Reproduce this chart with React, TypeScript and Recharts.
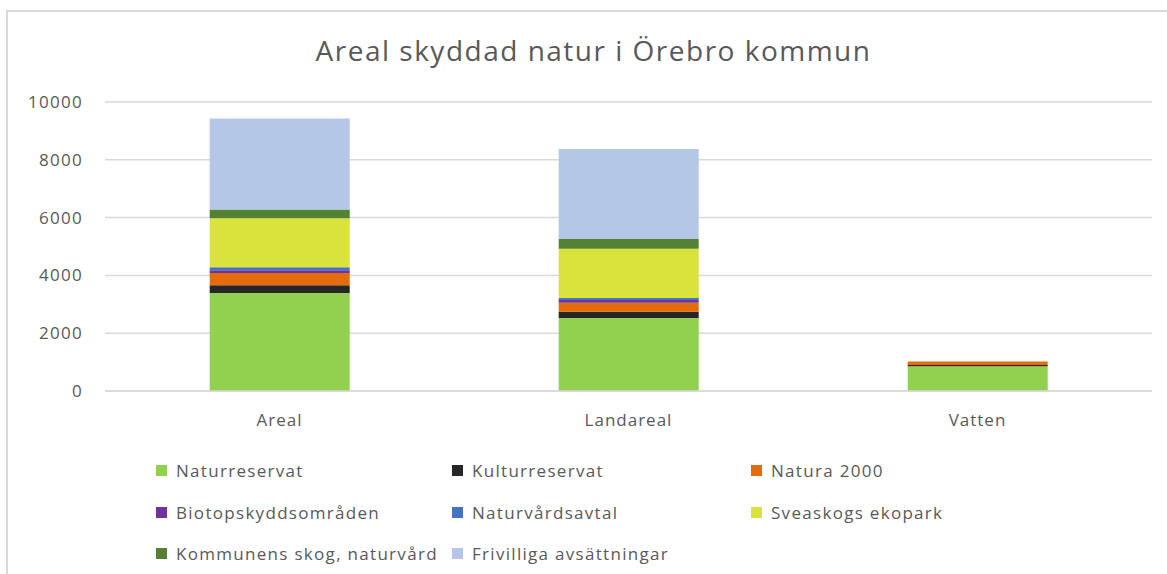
import React from 'react';
import { BarChart, Bar, XAxis, YAxis, CartesianGrid } from 'recharts';

const categories = ['Areal', 'Landareal', 'Vatten'];
const naturreservat = [3390, 2530, 860];
const kulturreservat = [270, 210, 40];
const natura2000 = [420, 310, 120];
const biotopskydd = [100, 100, 0];
const naturvardsavtal = [100, 70, 0];
const sveaskog = [1700, 1700, 0];
const kommunens = [300, 340, 0];
const frivilliga = [3150, 3110, 0];
const yTicks = [0, 2000, 4000, 6000, 8000, 10000];

const series = [
  { key: 'naturreservat', name: 'Naturreservat', values: naturreservat, color: '#92d050' },
  { key: 'kulturreservat', name: 'Kulturreservat', values: kulturreservat, color: '#262626' },
  { key: 'natura2000', name: 'Natura 2000', values: natura2000, color: '#e46c0a' },
  { key: 'biotopskydd', name: 'Biotopskyddsområden', values: biotopskydd, color: '#7030a0' },
  { key: 'naturvardsavtal', name: 'Naturvårdsavtal', values: naturvardsavtal, color: '#4472c4' },
  { key: 'sveaskog', name: 'Sveaskogs ekopark', values: sveaskog, color: '#d9e339' },
  { key: 'kommunens', name: 'Kommunens skog, naturvård', values: kommunens, color: '#548235' },
  { key: 'frivilliga', name: 'Frivilliga avsättningar', values: frivilliga, color: '#b4c7e7' },
];

const data = categories.map((c, i) => {
  const row: Record<string, string | number> = { name: c };
  series.forEach((s) => {
    row[s.key] = s.values[i];
  });
  return row;
});

const FONT = '"Open Sans", sans-serif';
const TEXT = '#595959';

export default function App() {
  return (
    <div style={{ position: 'absolute', left: 0, top: 0, width: 1167, height: 574, background: '#fff', overflow: 'hidden', fontFamily: FONT }}>
      <div style={{ position: 'absolute', left: 6, top: 10, width: 1200, height: 600, borderTop: '2px solid #d9d9d9', borderLeft: '2px solid #d9d9d9' }} />
      <div style={{ position: 'absolute', left: 0, top: 31, width: 1187, textAlign: 'center', fontSize: 28, color: TEXT, letterSpacing: 1.5 }}>
        Areal skyddad natur i Örebro kommun
      </div>
      <div style={{ position: 'absolute', left: 0, top: 0 }}>
        <BarChart width={1167} height={574} data={data} margin={{ top: 102, right: 15, bottom: 153, left: 45 }} barCategoryGap="30%">
          <CartesianGrid vertical={false} stroke="#d9d9d9" strokeWidth={1.5} />
          <XAxis
            dataKey="name"
            axisLine={{ stroke: '#d9d9d9', strokeWidth: 1.5 }}
            tickLine={false}
            tickSize={0}
            tickMargin={23}
            height={30}
            tick={{ fill: TEXT, fontSize: 17, fontFamily: FONT, letterSpacing: 1 }}
          />
          <YAxis
            domain={[0, 10000]}
            ticks={yTicks}
            axisLine={false}
            tickLine={false}
            tickSize={0}
            tickMargin={22}
            width={60}
            tick={{ fill: TEXT, fontSize: 17, fontFamily: FONT, letterSpacing: 1.3 }}
          />
          {series.map((s) => (
            <Bar key={s.key} dataKey={s.key} name={s.name} stackId="a" fill={s.color} isAnimationActive={false} />
          ))}
        </BarChart>
      </div>
      {series.map((s, i) => {
        const col = i % 3;
        const row = Math.floor(i / 3);
        const left = [156, 452, 751][col];
        const top = [470, 512, 553][row];
        return (
          <div key={s.key} style={{ position: 'absolute', left, top: top - 12, height: 24, display: 'flex', alignItems: 'center', whiteSpace: 'nowrap' }}>
            <span style={{ display: 'inline-block', width: 11, height: 11, background: s.color, marginRight: 9 }} />
            <span style={{ fontSize: 17, color: TEXT, letterSpacing: 1.3 }}>{s.name}</span>
          </div>
        );
      })}
    </div>
  );
}
